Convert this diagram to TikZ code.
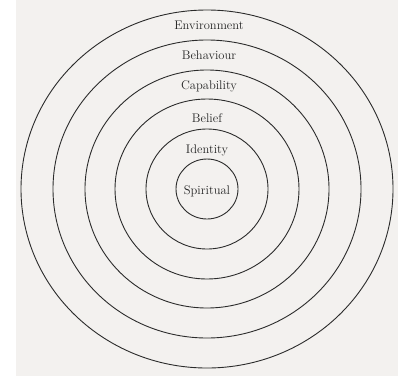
\documentclass[tikz,border=0pt]{standalone}
\usepackage{xcolor}
\usepackage{tikz}
\usetikzlibrary{positioning}
\definecolor{lvlpaper}{HTML}{F3F1EF}
\definecolor{lvlink}{HTML}{2B2B2B}
\definecolor{lvltext}{HTML}{262626}
\tikzset{
  ring/.style={draw=lvlink, line width=0.9pt},
  lvl/.style={text=lvltext, inner sep=1pt, font=\fontsize{12.5}{14}\selectfont}
}
\begin{document}
\begin{tikzpicture}[x=1pt, y=-1pt]
        \useasboundingbox (0,0) rectangle (398,383);
        \fill[white] (0,0) rectangle (398,383);
        \fill[lvlpaper] (16,0) rectangle (398,376);

        % rings, centre at (207,189)
        \coordinate (c) at (207,189);
        \draw[ring] (c) ellipse [x radius=31, y radius=30];
        \draw[ring] (c) ellipse [x radius=61, y radius=60];
        \draw[ring] (c) ellipse [x radius=92, y radius=90];
        \draw[ring] (c) ellipse [x radius=122, y radius=119];
        \draw[ring] (c) ellipse [x radius=154, y radius=149];
        \draw[ring] (c) ellipse [x radius=186, y radius=179];

        \node[lvl] (env) at (209, 25) {Environment};
        \node[lvl] (beh) at (209, 55) {Behaviour};
        \node[lvl] (cap) at (209, 86) {Capability};
        \node[lvl] (bel) at (207, 118) {Belief};
        \node[lvl] (ide) at (207, 150) {Identity};
        \node[lvl] (spi) at (207, 191) {Spiritual};
      \end{tikzpicture}
\end{document}
